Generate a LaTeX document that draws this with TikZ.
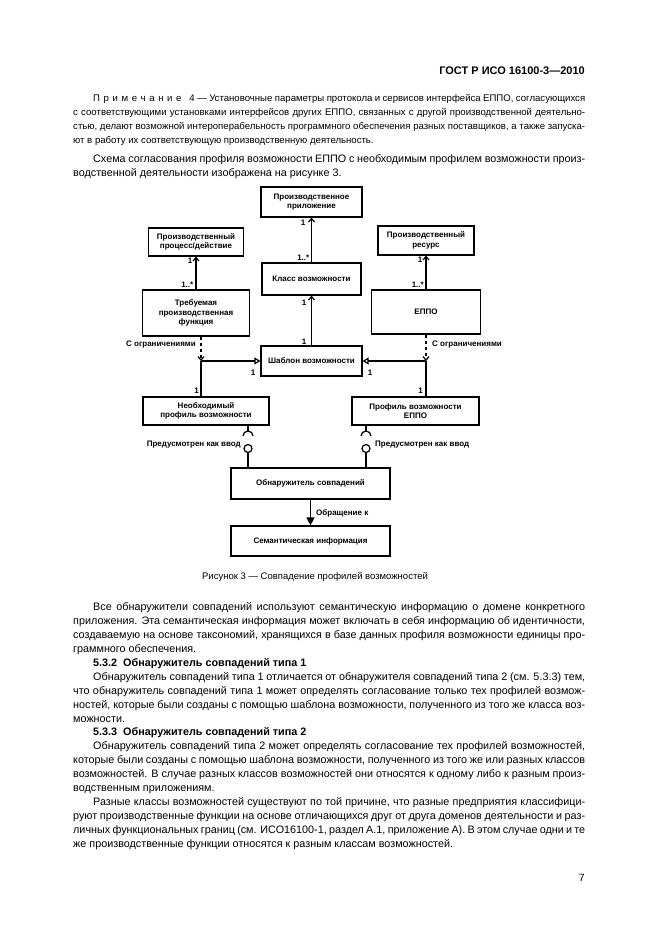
\documentclass[tikz,border=0pt]{standalone}
\usepackage{fontspec}
\setmainfont{Liberation Sans}
\usetikzlibrary{arrows.meta,calc}
\newcommand{\jf}[1]{\hbox to 512pt{#1}}
\newcommand{\ji}[1]{\hbox to 492pt{#1}}
\newcommand{\ls}{\kern3.6pt}
\tikzset{
  box/.style={draw, line width=1.2pt, font=\fontsize{8}{9.5}\selectfont\bfseries, align=center, inner sep=0pt},
  lbl/.style={font=\fontsize{8}{9.5}\selectfont\bfseries, inner sep=0pt},
  ln/.style={line width=1.2pt},
  opena/.style={-{Straight Barb[length=3.5pt,width=6pt,line width=1.2pt]}},
  tri/.style={-{Triangle[open,length=6pt,width=7pt,line width=1.2pt]}},
  dsh/.style={dash pattern=on 3.5pt off 2.5pt},
  body/.style={font=\fontsize{10.8}{12}\selectfont, inner sep=0pt, anchor=base west},
  note/.style={font=\fontsize{9.6}{11}\selectfont, inner sep=0pt, anchor=base west},
}
\begin{document}
\begin{tikzpicture}[x=1pt,y=-1pt]
\useasboundingbox[fill=white] (0,0) rectangle (661,935);

% header
\node[font=\fontsize{11}{12}\selectfont\bfseries, inner sep=0pt, anchor=base east] (hdr) at (585,74) {ГОСТ Р ИСО 16100-3—2010};

% note
\node[note] (n1) at (93,101.5) {\ji{П\ls р\ls и\ls м\ls е\ls ч\ls а\ls н\ls и\ls е\kern8pt 4 — Установочные параметры протокола и сервисов интерфейса ЕППО, согласующихся}};
\node[note] (n2) at (73,115.5) {\jf{с соответствующими установками интерфейсов других ЕППО, связанных с другой производственной деятельно-}};
\node[note] (n3) at (73,129.5) {\jf{стью, делают возможной интероперабельность программного обеспечения разных поставщиков, а также запуска-}};
\node[note] (n4) at (73,143.5) {ют в работу их соответствующую производственную деятельность.};

\node[body] (p1) at (93,162) {\ji{Схема согласования профиля возможности ЕППО с необходимым профилем возможности произ-}};
\node[body] (p2) at (73,176) {водственной деятельности изображена на рисунке 3.};

% diagram boxes
\node[box, minimum width=101pt, minimum height=30pt] (app) at (311.5,202) {Производственное\\приложение};
\node[box, minimum width=95pt, minimum height=28pt] (proc) at (196,242) {Производственный\\процесс/действие};
\node[box, minimum width=96pt, minimum height=29pt] (res) at (426,240.5) {Производственный\\ресурс};
\node[box, minimum width=99pt, minimum height=32pt] (cls) at (311.5,279) {Класс возможности};
\node[box, minimum width=107pt, minimum height=46pt] (func) at (196,313) {Требуемая\\производственная\\функция};
\node[box, minimum width=109pt, minimum height=44pt] (eppo) at (426,312) {ЕППО};
\node[box, minimum width=101pt, minimum height=30pt] (tmpl) at (311.5,361) {Шаблон возможности};
\node[box, minimum width=126pt, minimum height=28pt] (need) at (206,411) {Необходимый\\профиль возможности};
\node[box, minimum width=127pt, minimum height=28pt] (prof) at (415.5,411) {Профиль возможности\\ЕППО};
\node[box, minimum width=159pt, minimum height=31pt] (match) at (310.5,483.5) {Обнаружитель совпадений};
\node[box, minimum width=159pt, minimum height=30pt] (sem) at (310.5,541) {Семантическая информация};

% upper associations
\draw[ln, opena] (cls.north) -- (app.south);
\draw[ln, opena] (func.north) -- (proc.south);
\draw[ln, opena] (eppo.north) -- (res.south);
\draw[ln, opena] (tmpl.north) -- (cls.south);

\node[lbl] (m1) at (303,223) {1};
\node[lbl, anchor=east] (m2) at (309.5,258) {1..*};
\node[lbl] (m3) at (190,261) {1};
\node[lbl, anchor=east] (m4) at (193.5,285) {1..*};
\node[lbl] (m5) at (420,260) {1};
\node[lbl, anchor=east] (m6) at (424,285) {1..*};
\node[lbl] (m7) at (304,303) {1};
\node[lbl] (m8) at (304,342) {1};

% junctions
\coordinate (jl) at (201,361);
\coordinate (jr) at (426,361);
\draw[ln, dsh, opena] (func.south -| jl) -- (jl);
\draw[ln] (jl) -- (need.north -| jl);
\draw[ln, tri] (jl) -- (tmpl.west);
\draw[ln, dsh, opena] (eppo.south -| jr) -- (jr);
\draw[ln] (jr) -- (prof.north -| jr);
\draw[ln, tri] (jr) -- (tmpl.east);

\node[lbl, anchor=east] (c1) at (196,345) {С ограничениями};
\node[lbl, anchor=west] (c2) at (432,345) {С ограничениями};
\node[lbl] (m9) at (253,373) {1};
\node[lbl] (m10) at (370,373) {1};
\node[lbl] (m11) at (196.5,391) {1};
\node[lbl] (m12) at (420.5,391) {1};

% lollipops
\coordinate (sl) at (248,431);
\coordinate (sr) at (366,431);
\draw[ln] (need.south -| sl) -- (sl);
\draw[ln] (243,436) arc[start angle=180, end angle=0, radius=5pt];
\node[draw, circle, ln, minimum size=8pt, inner sep=0pt] (bl) at (248,448.5) {};
\draw[ln] (bl.south) -- (match.north -| bl);
\draw[ln] (prof.south -| sr) -- (sr);
\draw[ln] (361,436) arc[start angle=180, end angle=0, radius=5pt];
\node[draw, circle, ln, minimum size=8pt, inner sep=0pt] (br) at (366,448.5) {};
\draw[ln] (br.south) -- (match.north -| br);
\node[lbl, anchor=east] (pv1) at (241,445) {Предусмотрен как ввод};
\node[lbl, anchor=west] (pv2) at (375,445) {Предусмотрен как ввод};

% call
\draw[ln, -{Triangle[length=8pt,width=8pt]}] (match.south) -- (sem.north);
\node[lbl, anchor=west] (obr) at (316,513) {Обращение к};

% caption
\node[font=\fontsize{9.5}{11}\selectfont, inner sep=0pt, anchor=base] (cap) at (315,579.5) {Рисунок 3 — Совпадение профилей возможностей};

% body text
\node[body] (b1) at (93,610) {\ji{Все обнаружители совпадений используют семантическую информацию о домене конкретного}};
\node[body] (b2) at (73,624) {\jf{приложения. Эта семантическая информация может включать в себя информацию об идентичности,}};
\node[body] (b3) at (73,638) {\jf{создаваемую на основе таксономий, хранящихся в базе данных профиля возможности единицы про-}};
\node[body] (b4) at (73,652) {граммного обеспечения.};
\node[body, font=\fontsize{10.8}{12}\selectfont\bfseries] (b5) at (93,666) {5.3.2\kern6pt Обнаружитель совпадений типа 1};
\node[body] (b6) at (93,680) {\ji{Обнаружитель совпадений типа 1 отличается от обнаружителя совпадений типа 2 (см. 5.3.3) тем,}};
\node[body] (b7) at (73,694) {\jf{что обнаружитель совпадений типа 1 может определять согласование только тех профилей возмож-}};
\node[body] (b8) at (73,708) {\jf{ностей, которые были созданы с помощью шаблона возможности, полученного из того же класса воз-}};
\node[body] (b9) at (73,722) {можности.};
\node[body, font=\fontsize{10.8}{12}\selectfont\bfseries] (b10) at (93,735) {5.3.3\kern6pt Обнаружитель совпадений типа 2};
\node[body] (b11) at (93,749) {\ji{Обнаружитель совпадений типа 2 может определять согласование тех профилей возможностей,}};
\node[body] (b12) at (73,763) {\jf{которые были созданы с помощью шаблона возможности, полученного из того же или разных классов}};
\node[body] (b13) at (73,777) {\jf{возможностей. В случае разных классов возможностей они относятся к одному либо к разным произ-}};
\node[body] (b14) at (73,791) {водственным приложениям.};
\node[body] (b15) at (93,805) {\ji{Разные классы возможностей существуют по той причине, что разные предприятия классифици-}};
\node[body] (b16) at (73,819) {\jf{руют производственные функции на основе отличающихся друг от друга доменов деятельности и раз-}};
\node[body] (b17) at (73,833) {\jf{личных функциональных границ (см. ИСО16100-1, раздел А.1, приложение А). В этом случае одни и те}};
\node[body] (b18) at (73,847) {же производственные функции относятся к разным классам возможностей.};

\node[font=\fontsize{10.5}{12}\selectfont, inner sep=0pt, anchor=base east] (pg) at (585,881) {7};
\end{tikzpicture}
\end{document}
